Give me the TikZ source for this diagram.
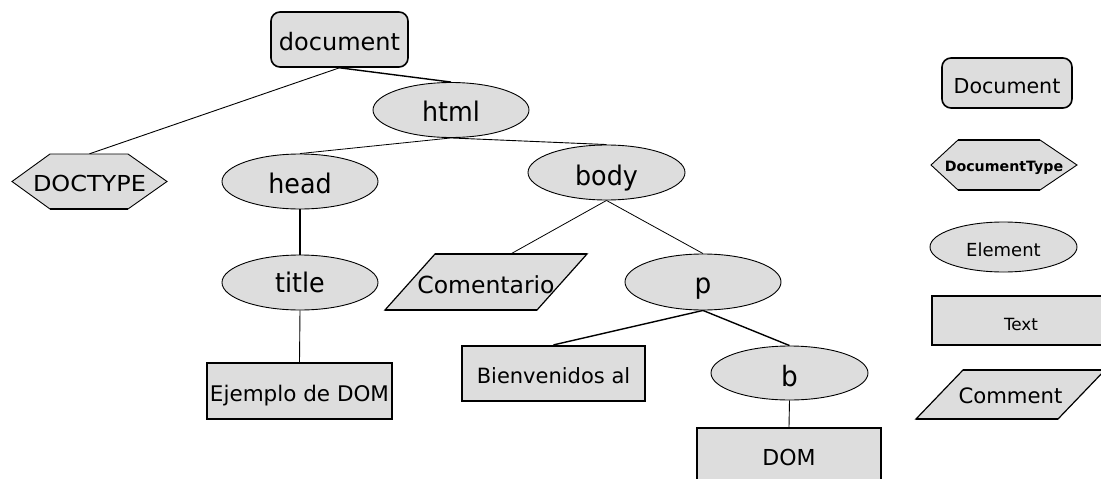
\documentclass[tikz,border=0pt]{standalone}
\usepackage{fontspec}
\setmainfont{DejaVu Sans}
\newfontfamily\elfont[FakeStretch=0.94]{DejaVu Sans}
\newfontfamily\widefont[FakeStretch=1.09]{DejaVu Sans}
\usetikzlibrary{shapes.geometric,backgrounds}
\definecolor{gfill}{HTML}{DDDDDD}
\begin{document}
\begin{tikzpicture}[x=1pt,y=-1pt,
  elfnt/.style={font=\elfont\fontsize{27}{27}\selectfont},
  midfont/.style={font=\fontsize{21.5}{21.5}\selectfont},
  bl/.style={text height=#1, text depth=0pt},
  ell/.style={ellipse, draw, fill=gfill, line width=0.9pt, inner sep=0pt, elfnt},
  rbox/.style={rectangle, draw, fill=gfill, line width=2.2pt, inner sep=0pt, midfont},
  docbox/.style={rectangle, rounded corners=9pt, draw, fill=gfill, line width=1.6pt, inner sep=0pt},
  txt/.style={rectangle, inner sep=0pt},
  shapeline/.style={draw=black, fill=gfill},
  conn/.style={line width=0.9pt}
]
\useasboundingbox (0,0) rectangle (1101,479);
\clip (0,0) rectangle (1101,479);

% ---- tree nodes ----
\node[docbox, font=\fontsize{24}{24}\selectfont, bl=21pt, minimum width=137, minimum height=55] (document) at (339.5,39.5) {document};
\node[ell, bl=22pt, minimum width=156, minimum height=55] (html) at (451,110) {html};

% DOCTYPE hexagon
\filldraw[shapeline, line width=0.9pt] (12,181.5) -- (50,154) -- (128,154) -- (167,181.5) -- (128,209) -- (50,209) -- cycle;
\draw[line width=2pt] (50,209) -- (128,209);
\node[txt, font=\widefont\fontsize{22}{22}\selectfont, bl=20pt, minimum width=155, minimum height=55] (doctype) at (89.5,181.5) {DOCTYPE};

\node[ell, bl=24pt, minimum width=156, minimum height=55] (head) at (300,181.5) {head};
\node[ell, bl=25pt, minimum width=157, minimum height=55] (body) at (606.5,172.5) {body};
\node[ell, bl=20pt, minimum width=156, minimum height=55] (title) at (300,282.5) {title};

% Comentario parallelogram
\filldraw[shapeline, line width=1.2pt] (435,254) -- (587,254) -- (537,310) -- (385,310) -- cycle;
\draw[line width=2.2pt] (435,254) -- (587,254) (537,310) -- (385,310);
\node[txt, font=\fontsize{23.5}{23.5}\selectfont, bl=22pt, minimum width=202, minimum height=56] (coment) at (486,282) {Comentario};

\node[ell, font=\elfont\fontsize{28}{28}\selectfont, bl=22pt, minimum width=156, minimum height=56] (p) at (703,282) {p};
\node[rbox, bl=20pt, minimum width=185, minimum height=56] (ejemplo) at (299.5,391) {Ejemplo de DOM};
\node[rbox, font=\fontsize{21}{21}\selectfont, bl=20pt, minimum width=183, minimum height=55] (bien) at (553.5,373.5) {Bienvenidos al};
\node[ell, font=\elfont\fontsize{28}{28}\selectfont, bl=26pt, minimum width=157, minimum height=54] (b) at (789.5,373) {b};
\node[rbox, font=\fontsize{22}{22}\selectfont, bl=19.5pt, minimum width=184, minimum height=56] (dom) at (789,456) {DOM};

% ---- legend ----
\node[docbox, font=\fontsize{20.6}{20.6}\selectfont, bl=20pt, minimum width=130, minimum height=50] (lgdoc) at (1007,83) {Document};
\filldraw[shapeline, line width=0.9pt] (931,165) -- (958,140) -- (1040,140) -- (1077,165) -- (1040,190) -- (958,190) -- cycle;
\draw[line width=2pt] (958,140) -- (1040,140) (958,190) -- (1040,190);
\node[txt, font=\fontsize{14.2}{14.2}\selectfont\bfseries, bl=13.4pt, minimum width=146, minimum height=50] (lgdtype) at (1004,165) {DocumentType};
\node[ell, font=\fontsize{18}{18}\selectfont, bl=19.4pt, minimum width=147, minimum height=50] (lgelem) at (1003.5,247) {Element};
\node[rbox, font=\fontsize{16.8}{16.8}\selectfont, bl=19pt, minimum width=178, minimum height=49] (lgtext) at (1021,320.5) {Text};
\filldraw[shapeline, line width=1.2pt] (963,370) -- (1105,370) -- (1058,419) -- (916,419) -- cycle;
\draw[line width=2.2pt] (963,370) -- (1105,370) (1058,419) -- (916,419);
\node[txt, font=\fontsize{21.2}{21.2}\selectfont, bl=17.6pt, minimum width=189, minimum height=49] (lgcom) at (1010.5,394.5) {Comment};

% ---- connectors ----
\begin{scope}[on background layer]
\draw[conn, line width=1.4pt] (document.south) -- (html.north);
\draw[conn] (document.south) -- (doctype.north);
\draw[conn, line width=0.8pt] (html.south) -- (head.north);
\draw[conn] (html.south) -- (body.north);
\draw[conn, line width=2pt] (head.south) -- (title.north);
\draw[conn] (title.south) -- (ejemplo.north);
\draw[conn, line width=0.8pt] (body.south) -- ([xshift=25]coment.north);
\draw[conn, line width=0.8pt] (body.south) -- (p.north);
\draw[conn, line width=1.4pt] (p.south) -- (bien.north);
\draw[conn, line width=1.4pt] (p.south) -- (b.north);
\draw[conn] (b.south) -- (dom.north);
\end{scope}
\end{tikzpicture}
\end{document}
